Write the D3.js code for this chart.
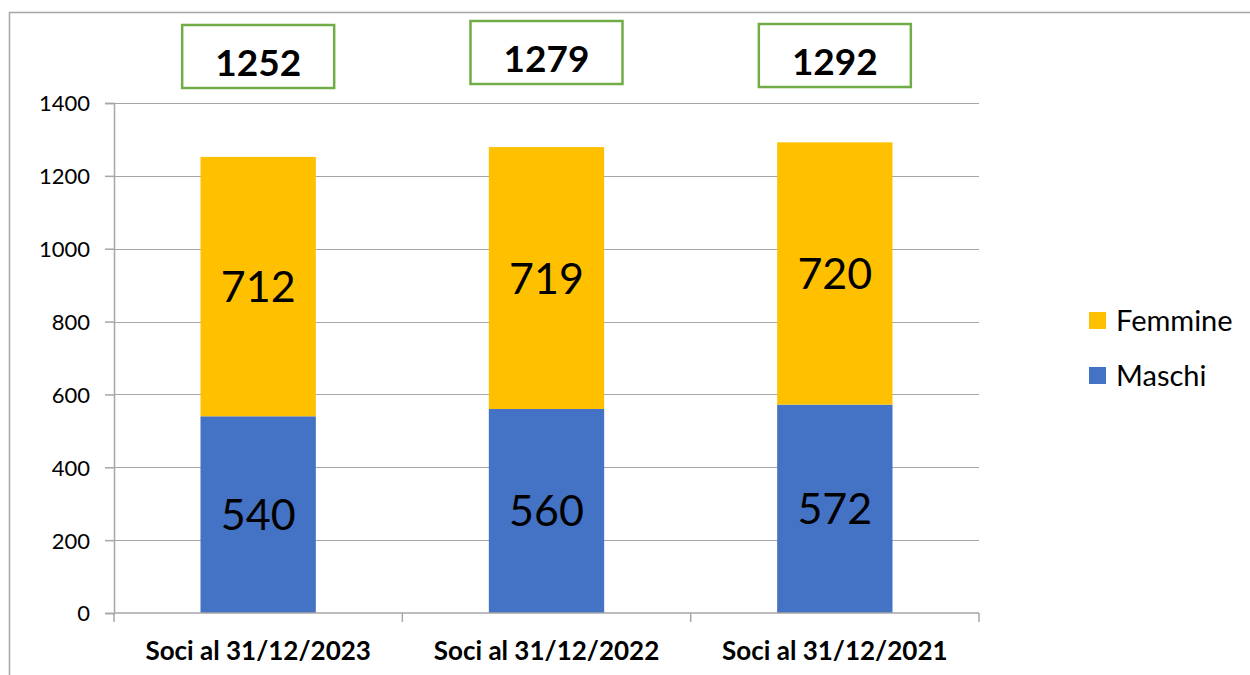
<!DOCTYPE html>
<html>
<head>
<meta charset="utf-8">
<script src="https://cdn.jsdelivr.net/npm/d3@7"></script>
<style>
  body { margin: 0; background: #fff; }
  svg { display: block; font-family: Lato, "Open Sans", sans-serif; }
</style>
</head>
<body>
<div id="chart"></div>
<script>
'use strict';

// data
const categories = ['Soci al 31/12/2023', 'Soci al 31/12/2022', 'Soci al 31/12/2021']
const maschi = [540, 560, 572]
const femmine = [712, 719, 720]
const totali = [1252, 1279, 1292]
const y_ticks = [0, 200, 400, 600, 800, 1000, 1200, 1400]
const series_names = ['Femmine', 'Maschi']
const series_colors = {Maschi: '#4472c4', Femmine: '#ffc000'}

const dimensions = {
  width: 1250,
  height: 675,
  margin: { top: 103, bottom: 62, left: 114, right: 271 }
}
dimensions.ctrWidth = dimensions.width - dimensions.margin.left - dimensions.margin.right
dimensions.ctrHeight = dimensions.height - dimensions.margin.top - dimensions.margin.bottom

const rows = categories.map((c, i) => ({cat: c, Maschi: maschi[i], Femmine: femmine[i], tot: totali[i]}))
const stacked = d3.stack().keys(['Maschi', 'Femmine'])(rows)

const svg = d3.select('#chart')
  .append('svg')
  .attr('width', dimensions.width)
  .attr('height', dimensions.height)

// outer frame (left and top edges only visible)
svg.append('path')
  .attr('d', `M9.5,${dimensions.height} V12.5 H${dimensions.width}`)
  .attr('fill', 'none')
  .attr('stroke', '#a6a6a6')
  .attr('stroke-width', 1.5)

const chart_g = svg.append('g')
  .attr('transform', `translate(${dimensions.margin.left}, ${dimensions.margin.top})`)

const xScale = d3.scaleBand()
  .domain(categories)
  .range([0, dimensions.ctrWidth])
  .paddingInner(0.6)
  .paddingOuter(0.3)

const yScale = d3.scaleLinear()
  .domain([0, 1400])
  .range([dimensions.ctrHeight, 0])

// gridlines
chart_g.append('g')
  .selectAll('line')
  .data(y_ticks.filter(d => d > 0))
  .join('line')
  .attr('x1', 0)
  .attr('x2', dimensions.ctrWidth)
  .attr('y1', d => Math.round(yScale(d)) + 0.5)
  .attr('y2', d => Math.round(yScale(d)) + 0.5)
  .attr('stroke', '#a6a6a6')
  .attr('stroke-width', 1.2)

// bars
chart_g.append('g')
  .selectAll('g')
  .data(stacked)
  .join('g')
  .attr('fill', d => series_colors[d.key])
  .selectAll('rect')
  .data(d => d)
  .join('rect')
  .attr('x', d => xScale(d.data.cat))
  .attr('y', d => yScale(d[1]))
  .attr('width', xScale.bandwidth())
  .attr('height', d => yScale(d[0]) - yScale(d[1]))

// bar labels
chart_g.append('g')
  .selectAll('g')
  .data(stacked)
  .join('g')
  .selectAll('text')
  .data(d => d)
  .join('text')
  .attr('x', d => xScale(d.data.cat) + xScale.bandwidth() / 2)
  .attr('y', d => yScale((d[0] + d[1]) / 2))
  .attr('dy', '0.36em')
  .attr('text-anchor', 'middle')
  .style('font-size', '43px')
  .attr('fill', '#000')
  .text(d => d[1] - d[0])

// y axis
const yAxis = d3.axisLeft(yScale).tickValues(y_ticks).tickFormat(d3.format('d')).tickSize(9).tickPadding(15)
const yAxisGroup = chart_g.append('g').call(yAxis)
yAxisGroup.selectAll('path, line').attr('stroke', '#a6a6a6').attr('stroke-width', 1.5)
yAxisGroup.selectAll('text')
  .style('font-size', '22px')
  .style('font-family', 'Lato, sans-serif')
  .attr('fill', '#000')
  .attr('dy', '0.36em')

// x axis with ticks at category boundaries
const xAxisGroup = chart_g.append('g')
  .attr('transform', `translate(0, ${dimensions.ctrHeight})`)
xAxisGroup.append('line')
  .attr('x1', 0).attr('x2', dimensions.ctrWidth)
  .attr('stroke', '#a6a6a6').attr('stroke-width', 1.5)
const bound = d3.scaleLinear().domain([0, categories.length]).range([0, dimensions.ctrWidth])
xAxisGroup.selectAll('.bound')
  .data(d3.range(categories.length + 1))
  .join('line')
  .attr('x1', i => bound(i))
  .attr('x2', i => bound(i))
  .attr('y1', 0).attr('y2', 9)
  .attr('stroke', '#a6a6a6').attr('stroke-width', 1.5)
xAxisGroup.selectAll('.cat')
  .data(categories)
  .join('text')
  .attr('x', d => xScale(d) + xScale.bandwidth() / 2)
  .attr('y', 47)
  .attr('text-anchor', 'middle')
  .style('font-size', '26px')
  .style('font-weight', 'bold')
  .attr('fill', '#000')
  .text(d => d)

// total boxes
const box_y = [25, 21, 24]
const boxes = svg.append('g')
  .selectAll('g')
  .data(rows)
  .join('g')
  .attr('transform', (d, i) => `translate(${dimensions.margin.left + xScale(d.cat) + xScale.bandwidth() / 2}, ${box_y[i]})`)
boxes.append('rect')
  .attr('x', -76)
  .attr('y', 0)
  .attr('width', 152)
  .attr('height', 63)
  .attr('fill', '#fff')
  .attr('stroke', '#70ad47')
  .attr('stroke-width', 2.5)
boxes.append('text')
  .attr('x', 0)
  .attr('y', 51)
  .attr('text-anchor', 'middle')
  .style('font-size', '37px')
  .style('font-weight', 'bold')
  .attr('fill', '#000')
  .text(d => d.tot)

// legend
const legend = svg.append('g')
  .attr('transform', 'translate(1089, 312)')
const leg_items = legend.selectAll('g')
  .data(series_names)
  .join('g')
  .attr('transform', (d, i) => `translate(0, ${i * 55})`)
leg_items.append('rect')
  .attr('width', 17)
  .attr('height', 17)
  .attr('fill', d => series_colors[d])
leg_items.append('text')
  .attr('x', 27)
  .attr('y', 9)
  .attr('dy', '0.36em')
  .style('font-size', '29px')
  .attr('fill', '#000')
  .text(d => d)
</script>
</body>
</html>
